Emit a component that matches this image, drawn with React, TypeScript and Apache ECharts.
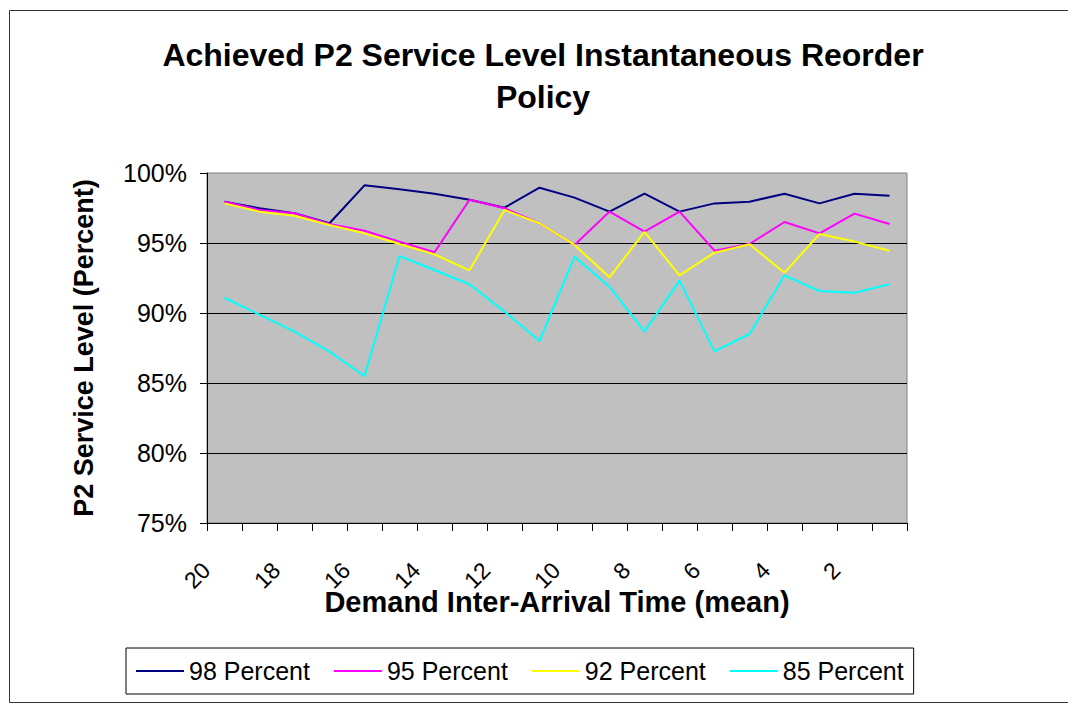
import React, { useEffect, useRef } from "react";
import * as echarts from "echarts";

const categories = ["20","19","18","17","16","15","14","13","12","11","10","9","8","7","6","5","4","3","2","1"];
const seriesNames = ["98 Percent", "95 Percent", "92 Percent", "85 Percent"];
const s98 = [97.95, 97.48, 97.12, 96.41, 99.12, 98.84, 98.52, 98.09, 97.52, 98.95, 98.24, 97.24, 98.52, 97.24, 97.83, 97.95, 98.52, 97.83, 98.52, 98.38];
const s95 = [97.95, 97.36, 97.12, 96.36, 95.88, 95.10, 94.34, 98.09, 97.48, 96.41, 94.86, 97.24, 95.81, 97.24, 94.45, 94.93, 96.50, 95.69, 97.10, 96.36];
const s92 = [97.83, 97.24, 96.95, 96.29, 95.69, 94.93, 94.19, 93.05, 97.36, 96.41, 94.86, 92.55, 95.79, 92.69, 94.31, 94.91, 92.88, 95.64, 95.10, 94.45];
const s85 = [91.09, 89.88, 88.67, 87.24, 85.50, 94.07, 93.07, 92.05, 90.10, 88.00, 94.02, 91.88, 88.67, 92.31, 87.26, 88.50, 92.69, 91.57, 91.45, 92.05];
const colors = ["#000080", "#FF00FF", "#FFFF00", "#00FFFF"];
const FONT = "'Liberation Sans', Arial, sans-serif";
const titleText = "Achieved P2 Service Level Instantaneous Reorder\nPolicy";

export default function App() {
  const ref = useRef<HTMLDivElement>(null);
  useEffect(() => {
    if (!ref.current) return;
    const chart = echarts.init(ref.current, undefined, { renderer: "svg" });
    const data = [s98, s95, s92, s85];
    chart.setOption({
      animation: false,
      backgroundColor: "#fff",
      textStyle: { fontFamily: FONT, color: "#000" },
      graphic: [
        {
          type: "rect",
          shape: { x: 9.5, y: 10.5, width: 1100, height: 692 },
          style: { fill: "none", stroke: "#333", lineWidth: 1 },
          silent: true,
        },
        {
          type: "text",
          x: 543,
          y: 34,
          silent: true,
          style: {
            text: titleText,
            align: "center",
            verticalAlign: "top",
            fontFamily: FONT,
            fontSize: 32,
            fontWeight: "bold",
            lineHeight: 42,
            fill: "#000",
          },
        },
      ],
      grid: {
        left: 207,
        top: 173,
        width: 700,
        height: 350,
        show: true,
        backgroundColor: "#C0C0C0",
        borderColor: "#808080",
        borderWidth: 1,
      },
      legend: {
        left: 126,
        top: 648,
        padding: [10, 10, 10, 10],
        itemGap: 24,
        itemWidth: 48,
        itemHeight: 2,
        icon: "rect",
        borderColor: "#000",
        borderWidth: 1,
        backgroundColor: "#fff",
        textStyle: { fontFamily: FONT, fontSize: 25, color: "#000", lineHeight: 26 },
        data: seriesNames,
      },
      xAxis: {
        type: "category",
        data: categories,
        boundaryGap: true,
        name: "Demand Inter-Arrival Time (mean)",
        nameLocation: "middle",
        nameGap: 64,
        nameMoveOverlap: false,
        nameTextStyle: { fontFamily: FONT, fontSize: 29, fontWeight: "bold", color: "#000" },
        axisLine: { show: true, lineStyle: { color: "#000", width: 1 } },
        axisTick: { show: true, interval: 0, length: 8, lineStyle: { color: "#000" } },
        axisLabel: {
          interval: 1,
          rotate: 45,
          margin: 25,
          padding: [0, 26, 0, 0],
          fontFamily: FONT,
          fontSize: 23,
          color: "#000",
        },
        splitLine: { show: false },
      },
      yAxis: {
        type: "value",
        min: 75,
        max: 100,
        interval: 5,
        name: "P2 Service Level (Percent)",
        nameLocation: "middle",
        nameGap: 110,
        nameMoveOverlap: false,
        nameTextStyle: { fontFamily: FONT, fontSize: 27, fontWeight: "bold", color: "#000" },
        axisLine: { show: true, lineStyle: { color: "#000", width: 1 } },
        axisTick: { show: true, length: 7, lineStyle: { color: "#000" } },
        axisLabel: {
          formatter: "{value}%",
          margin: 20,
          fontFamily: FONT,
          fontSize: 25,
          color: "#000",
        },
        splitLine: { show: true, showMinLine: false, showMaxLine: false, lineStyle: { color: "#000", width: 1 } },
      },
      series: seriesNames.map((name, i) => ({
        name,
        type: "line",
        data: data[i],
        symbol: "none",
        showSymbol: false,
        lineStyle: { color: colors[i], width: 2 },
        itemStyle: { color: colors[i] },
        emphasis: { disabled: true },
      })),
    });
    return () => chart.dispose();
  }, []);
  return (
    <div
      ref={ref}
      style={{ position: "absolute", left: 0, top: 0, width: 1068, height: 704 }}
    />
  );
}
